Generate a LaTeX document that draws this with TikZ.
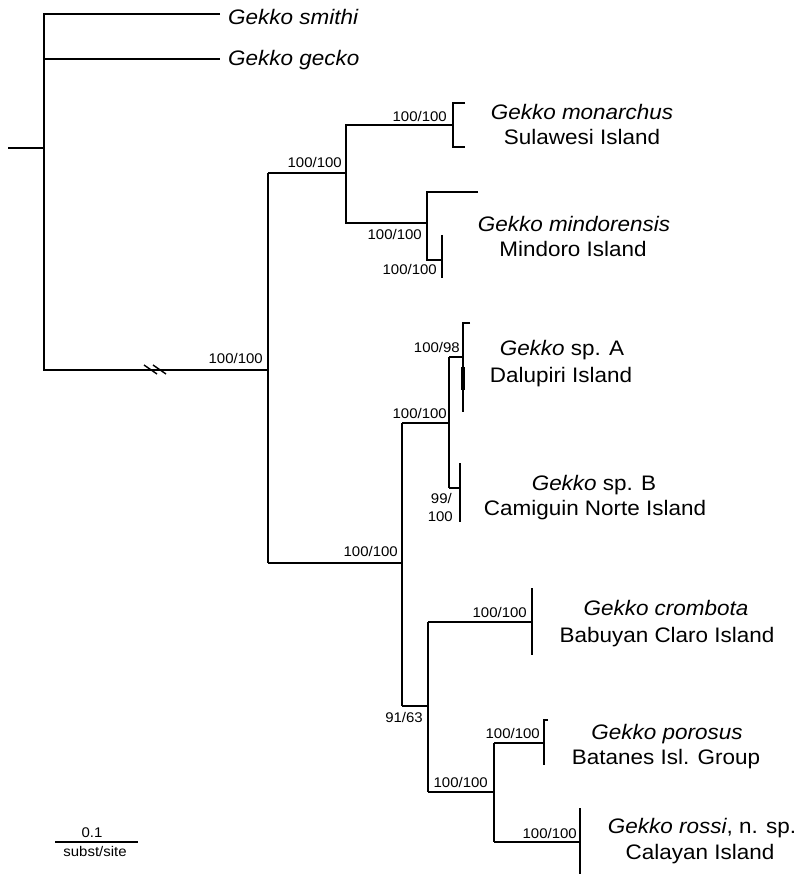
\documentclass[tikz,border=0pt]{standalone}
\usepackage{fontspec}
\setmainfont{Liberation Sans}
\newfontfamily\labfont[FakeStretch=1.07]{Liberation Sans}
\begin{document}
\begin{tikzpicture}[x=1pt,y=-1pt,
  br/.style={line width=2.6pt,line join=miter},
  tax/.style={anchor=base,inner sep=0pt,font=\labfont\fontsize{21}{25}\selectfont},
  taxw/.style={anchor=base west,inner sep=0pt,font=\labfont\fontsize{21}{25}\selectfont},
  sup/.style={anchor=base east,inner sep=0pt,font=\labfont\fontsize{14}{16}\selectfont},
  brk/.style={line width=1.4pt}]
\useasboundingbox (0,0) rectangle (797,874);
% coordinates
\coordinate (r0) at (8,148);
\coordinate (r) at (44,148);
\coordinate (rt) at (44,14);
\coordinate (rg) at (44,59);
\coordinate (rb) at (44,370);
\coordinate (smt) at (220,14);
\coordinate (gct) at (220,59);
\coordinate (n1) at (268,370);
\coordinate (n1t) at (268,173);
\coordinate (n1b) at (268,563);
\coordinate (n2) at (346,173);
\coordinate (n2t) at (346,125);
\coordinate (n2b) at (346,223);
\coordinate (mon) at (453,125);
\coordinate (mon1) at (453,103);
\coordinate (mon1e) at (465,103);
\coordinate (mon2) at (453,147);
\coordinate (mon2e) at (465,147);
\coordinate (n3) at (427,223);
\coordinate (n3t) at (427,192);
\coordinate (n3b) at (427,260);
\coordinate (min1) at (478,192);
\coordinate (min2) at (442,260);
\coordinate (min2t) at (442,235);
\coordinate (min2b) at (442,278);
\coordinate (n4) at (402,563);
\coordinate (n4t) at (402,423);
\coordinate (n4b) at (402,706);
\coordinate (n5) at (449,423);
\coordinate (n5t) at (449,357);
\coordinate (n5b) at (449,488);
\coordinate (spa) at (463,357);
\coordinate (spat) at (463,323);
\coordinate (spate) at (470,323);
\coordinate (spab) at (463,412);
\coordinate (spk1) at (463,367);
\coordinate (spk2) at (463,390);
\coordinate (spb) at (460,488);
\coordinate (spbt) at (460,463);
\coordinate (spbb) at (460,522);
\coordinate (n6) at (428,706);
\coordinate (n6t) at (428,622);
\coordinate (n6b) at (428,792);
\coordinate (cro) at (532,622);
\coordinate (crot) at (532,588);
\coordinate (crob) at (532,655);
\coordinate (n7) at (494,792);
\coordinate (n7t) at (494,743);
\coordinate (n7b) at (494,842);
\coordinate (por) at (544,743);
\coordinate (port) at (544,720);
\coordinate (porte) at (548,720);
\coordinate (porb) at (544,765);
\coordinate (ros) at (580,842);
\coordinate (rost) at (580,808);
\coordinate (rosb) at (580,876);
\coordinate (sb1) at (55,842);
\coordinate (sb2) at (138,842);
% branches
\draw[br] (r0) -- (r);
\draw[br] (smt) -- (rt) -- (rb) -- (n1);
\draw[br] (rg) -- (gct);
\draw[br] (n1t) -- (n1b);
\draw[br] (n1t) -- (n2);
\draw[br] (mon) -- (n2t) -- (n2b) -- (n3);
\draw[br] (mon1e) -- (mon1) -- (mon2) -- (mon2e);
\draw[br] (min1) -- (n3t) -- (n3b) -- (min2);
\draw[br] (min2t) -- (min2b);
\draw[br] (n1b) -- (n4);
\draw[br] (n4t) -- (n4b);
\draw[br] (n4t) -- (n5);
\draw[br] (n5t) -- (n5b);
\draw[br] (n5t) -- (spa);
\draw[br] (spate) -- (spat) -- (spab);
\draw[line width=4.2pt] (spk1) -- (spk2);
\draw[br] (n5b) -- (spb);
\draw[br] (spbt) -- (spbb);
\draw[br] (n4b) -- (n6);
\draw[br] (n6t) -- (n6b);
\draw[br] (n6t) -- (cro);
\draw[br] (crot) -- (crob);
\draw[br] (n6b) -- (n7);
\draw[br] (n7t) -- (n7b);
\draw[br] (n7t) -- (por);
\draw[br] (porte) -- (port) -- (porb);
\draw[br] (n7b) -- (ros);
\draw[br] (rost) -- (rosb);
% break marks
\coordinate (bk1a) at (144,365);
\coordinate (bk1b) at (157,374);
\coordinate (bk2a) at (153,365);
\coordinate (bk2b) at (166,374);
\draw[brk] (bk1a) -- (bk1b);
\draw[brk] (bk2a) -- (bk2b);
% support values
\node[sup] (s1) at (263,363) {100/100};
\node[sup] (s2) at (342,168) {100/100};
\node[sup] (s3) at (447,122) {100/100};
\node[sup] (s4) at (422,240) {100/100};
\node[sup] (s5) at (437,275) {100/100};
\node[sup] (s6) at (398,556) {100/100};
\node[sup] (s7) at (460,352) {100/98};
\node[sup] (s8) at (447,418) {100/100};
\node[sup] (s9a) at (452,503) {99/};
\node[sup] (s9b) at (453,521) {100};
\node[sup] (s10) at (527,617) {100/100};
\node[sup] (s11) at (423,722) {91/63};
\node[sup] (s12) at (540,738) {100/100};
\node[sup] (s13) at (488,787) {100/100};
\node[sup] (s14) at (577,838) {100/100};
% taxa
\node[taxw] (t1) at (228,25) {\textit{Gekko smithi}};
\node[taxw] (t2) at (228,66) {\textit{Gekko gecko}};
\node[tax] (t3a) at (582,120) {\textit{Gekko monarchus}};
\node[tax] (t3b) at (582,145) {Sulawesi Island};
\node[tax] (t4a) at (574,232) {\textit{Gekko mindorensis}};
\node[tax] (t4b) at (573,257) {Mindoro Island};
\node[tax] (t5a) at (562,355) {\textit{Gekko} sp. A};
\node[tax] (t5b) at (561,382) {Dalupiri Island};
\node[tax] (t6a) at (594,490) {\textit{Gekko} sp. B};
\node[tax] (t6b) at (595,515) {Camiguin Norte Island};
\node[tax] (t7a) at (666,615) {\textit{Gekko crombota}};
\node[tax] (t7b) at (667,642) {Babuyan Claro Island};
\node[tax] (t8a) at (667,739) {\textit{Gekko porosus}};
\node[tax] (t8b) at (666,764) {Batanes Isl. Group};
\node[tax] (t9a) at (702,833) {\textit{Gekko rossi}, n. sp.};
\node[tax] (t9b) at (700,859) {Calayan Island};
% scale bar
\draw[line width=2.2pt] (sb1) -- (sb2);
\node[anchor=base,inner sep=0pt,font=\labfont\fontsize{14}{16}\selectfont] (sc1) at (92,837) {0.1};
\node[anchor=base,inner sep=0pt,font=\labfont\fontsize{14}{16}\selectfont] (sc2) at (95,856) {subst/site};
\end{tikzpicture}
\end{document}
